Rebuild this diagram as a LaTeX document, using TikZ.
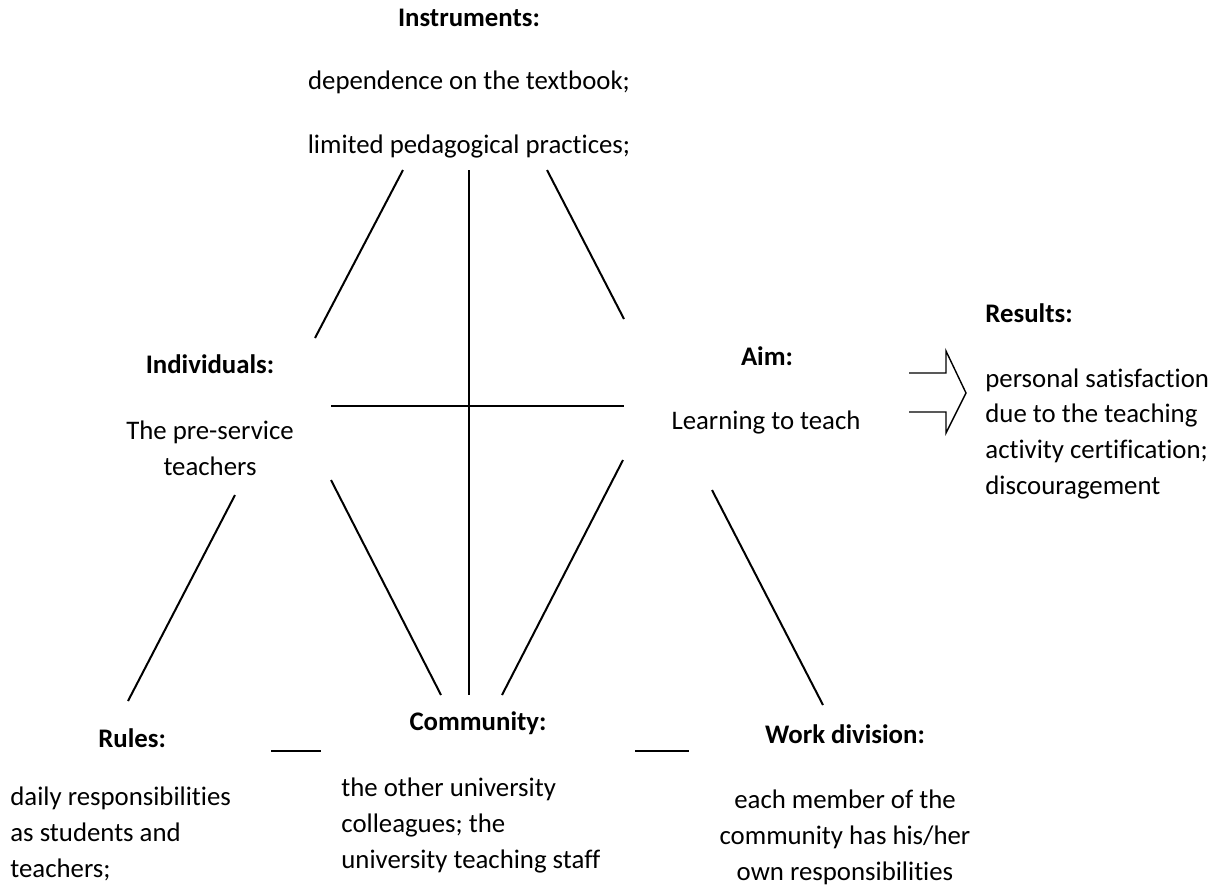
\documentclass[tikz,border=0pt]{standalone}
\usepackage{fontspec}
\setmainfont{Carlito}[Ligatures=NoCommon]

\tikzset{
  lbl/.style={inner sep=0pt, anchor=base},
  head/.style={lbl, font=\bfseries},
  body/.style={lbl, align=center},
  lbody/.style={lbl, anchor=base west, align=left},
  edge/.style={line width=1pt},
}

\begin{document}
\fontsize{13.4pt}{17.8pt}\selectfont
\begin{tikzpicture}[x=0.5pt, y=-0.5pt]
  \useasboundingbox (0,0) rectangle (1215,890);

  % top: instruments
  \node (ins)  [head] at (469,26)  {Instruments:};
  \node (ins1) [body] at (469,89)  {dependence on the textbook;};
  \node (ins2) [body] at (469,153) {limited pedagogical practices;};

  % middle row (multi-line texts sit on their last line)
  \node (ind)  [head] at (210,373) {Individuals:};
  \node (indt) [body] at (210,475) {The pre-service\\teachers};
  \node (aim)  [head] at (767,365) {Aim:};
  \node (aimt) [body] at (766,429) {Learning to teach};
  \node (res)  [lbl, anchor=base west, font=\bfseries] at (985,322) {Results:};
  \node (rest) [lbody] at (985,494) {personal satisfaction\\due to the teaching\\activity certification;\\discouragement};

  % bottom row
  \node (rul)  [lbl, anchor=base west, font=\bfseries] at (98,747) {Rules:};
  \node (rult) [lbody] at (10,877) {daily responsibilities\\as students and\\teachers;};
  \node (com)  [head] at (478,730) {Community:};
  \node (comt) [lbody] at (341,868) {the other university\\colleagues; the\\university teaching staff};
  \node (wrk)  [head] at (845,743) {Work division:};
  \node (wrkt) [body] at (845,880) {each member of the\\community has his/her\\own responsibilities};

  % line ends
  \coordinate (il) at (403,170);  \coordinate (li) at (315,338);
  \coordinate (ic) at (469,170);  \coordinate (ci) at (469,695);
  \coordinate (ia) at (547,170);  \coordinate (ai) at (624,319);
  \coordinate (ma) at (331,406);  \coordinate (mb) at (624,406);
  \coordinate (ir) at (235,495);  \coordinate (ri) at (128,701);
  \coordinate (ic2) at (331,480); \coordinate (ci2) at (441,695);
  \coordinate (ac) at (623,460);  \coordinate (ca) at (502,695);
  \coordinate (aw) at (712,490);  \coordinate (wa) at (823,705);
  \coordinate (rc) at (271,751);  \coordinate (cr) at (321,751);
  \coordinate (cw) at (635,751);  \coordinate (wc) at (689,751);

  \draw[edge] (il) -- (li);
  \draw[edge] (ic) -- (ci);
  \draw[edge] (ia) -- (ai);
  \draw[edge] (ma) -- (mb);
  \draw[edge] (ir) -- (ri);
  \draw[edge] (ic2) -- (ci2);
  \draw[edge] (ac) -- (ca);
  \draw[edge] (aw) -- (wa);
  \draw[edge] (rc) -- (cr);
  \draw[edge] (cw) -- (wc);

  % open block arrow to the results
  \draw[line width=0.7pt, line join=miter]
    (909,373) -- (946,373) -- (946,351) -- (966,393)
    -- (946,433) -- (946,412) -- (909,412);
\end{tikzpicture}
\end{document}
